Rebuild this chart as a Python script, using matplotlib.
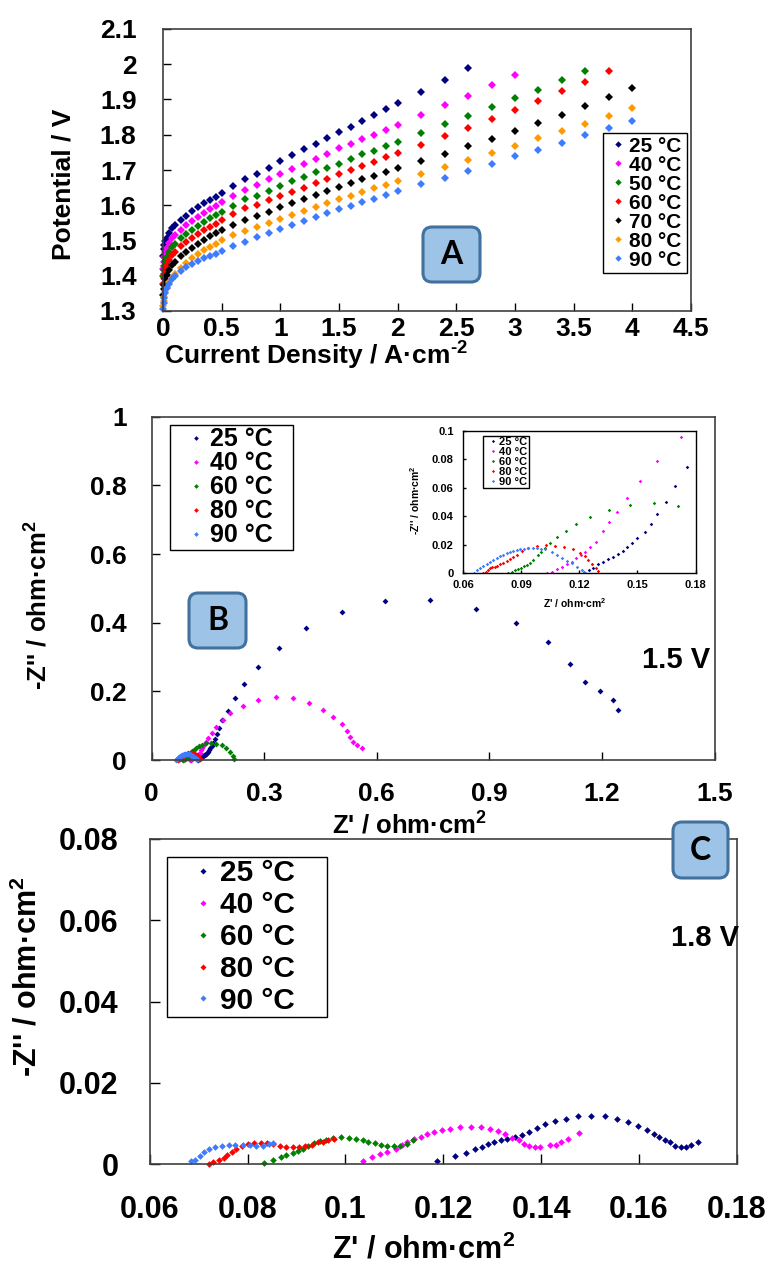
"""Polarization curves (A) and Nyquist plots at 1.5 V (B, with inset) and 1.8 V (C)."""

import matplotlib.pyplot as plt
import numpy as np
from matplotlib.patches import FancyBboxPatch
from matplotlib.ticker import FormatStrFormatter
from matplotlib.transforms import IdentityTransform

plt.rcParams['font.family'] = ['Liberation Sans', 'DejaVu Sans']
plt.rcParams['font.weight'] = 'bold'
plt.rcParams['axes.labelweight'] = 'bold'
plt.rcParams['mathtext.fontset'] = 'custom'
plt.rcParams['mathtext.rm'] = 'Liberation Sans:bold'
plt.rcParams['mathtext.it'] = 'Liberation Sans:bold'
plt.rcParams['mathtext.bf'] = 'Liberation Sans:bold'

W, H = 768, 1266

# ---- panel A: polarization curves -------------------------------------------
current = [0, 0.005, 0.01, 0.02, 0.03, 0.05, 0.075, 0.1, 0.15, 0.2, 0.25, 0.3, 0.35,
           0.4, 0.45, 0.5, 0.6, 0.7, 0.8, 0.9, 1.0, 1.1, 1.2, 1.3, 1.4, 1.5, 1.6, 1.7,
           1.8, 1.9, 2.0, 2.2, 2.4, 2.6, 2.8, 3.0, 3.2, 3.4, 3.6, 3.8, 4.0]
v_25 = [1.455, 1.476, 1.486, 1.498, 1.508, 1.522, 1.535, 1.544, 1.558, 1.570, 1.583, 1.594, 1.605, 1.615, 1.624,
        1.636, 1.655, 1.674, 1.690, 1.707, 1.726, 1.742, 1.759, 1.775, 1.791, 1.808, 1.823, 1.840, 1.856, 1.873, 1.889,
        1.921, 1.955, 1.990]
v_40 = [1.420, 1.440, 1.452, 1.468, 1.480, 1.494, 1.506, 1.516, 1.531, 1.544, 1.556, 1.567, 1.578, 1.588, 1.598,
        1.608, 1.626, 1.643, 1.657, 1.674, 1.689, 1.702, 1.716, 1.730, 1.744, 1.761, 1.775, 1.789, 1.800, 1.813, 1.828,
        1.855, 1.884, 1.911, 1.940, 1.970]
v_50 = [1.400, 1.416, 1.428, 1.443, 1.454, 1.468, 1.481, 1.491, 1.506, 1.519, 1.531, 1.542, 1.553, 1.563, 1.572,
        1.582, 1.599, 1.617, 1.627, 1.640, 1.656, 1.668, 1.681, 1.693, 1.707, 1.718, 1.731, 1.744, 1.755, 1.768, 1.780,
        1.805, 1.830, 1.854, 1.879, 1.903, 1.928, 1.954, 1.981]
v_60 = [1.378, 1.393, 1.405, 1.420, 1.431, 1.445, 1.458, 1.468, 1.483, 1.496, 1.507, 1.518, 1.529, 1.539, 1.548,
        1.558, 1.574, 1.591, 1.602, 1.615, 1.627, 1.639, 1.650, 1.663, 1.675, 1.688, 1.700, 1.712, 1.724, 1.736, 1.748,
        1.772, 1.796, 1.820, 1.845, 1.869, 1.896, 1.923, 1.951, 1.981]
v_70 = [1.345, 1.362, 1.375, 1.390, 1.402, 1.417, 1.430, 1.440, 1.455, 1.468, 1.480, 1.491, 1.502, 1.512, 1.521,
        1.530, 1.544, 1.557, 1.570, 1.582, 1.594, 1.605, 1.618, 1.629, 1.641, 1.653, 1.664, 1.675, 1.684, 1.695, 1.706,
        1.725, 1.746, 1.768, 1.789, 1.811, 1.833, 1.857, 1.882, 1.906, 1.932]
v_80 = [1.315, 1.328, 1.339, 1.354, 1.366, 1.381, 1.395, 1.406, 1.422, 1.437, 1.449, 1.461, 1.472, 1.482, 1.491,
        1.501, 1.516, 1.527, 1.539, 1.551, 1.561, 1.572, 1.584, 1.596, 1.607, 1.618, 1.627, 1.639, 1.648, 1.657, 1.669,
        1.689, 1.708, 1.728, 1.748, 1.769, 1.790, 1.811, 1.831, 1.852, 1.875]
v_90 = [1.305, 1.322, 1.336, 1.352, 1.364, 1.378, 1.390, 1.400, 1.414, 1.425, 1.434, 1.441, 1.449, 1.456, 1.463,
        1.471, 1.484, 1.497, 1.509, 1.520, 1.532, 1.544, 1.555, 1.567, 1.579, 1.588, 1.599, 1.609, 1.619, 1.629, 1.640,
        1.659, 1.678, 1.698, 1.718, 1.739, 1.758, 1.778, 1.798, 1.819, 1.838]
temps_a = ['25 °C', '40 °C', '50 °C', '60 °C', '70 °C', '80 °C', '90 °C']
colors_a = ['#000080', '#ff00ff', '#008000', '#ff0000', '#000000', '#ff9900', '#3d7bff']

# ---- panel B: impedance at 1.5 V --------------------------------------------
b25_re = [0.1229, 0.1250, 0.1272, 0.1298, 0.1324, 0.1349, 0.1375, 0.1401, 0.1427, 0.1448, 0.1470, 0.1496,
          0.1539, 0.1568, 0.1603, 0.1648, 0.1696, 0.1755, 0.181, 0.189, 0.203, 0.222, 0.247, 0.285, 0.340,
          0.411, 0.507, 0.622, 0.742, 0.865, 0.970, 1.057, 1.115, 1.155, 1.195, 1.229, 1.243]
b25_im = [0.0004, 0.0023, 0.0039, 0.0063, 0.0082, 0.0098, 0.0117, 0.0136, 0.0159, 0.0183, 0.0211, 0.0246,
          0.0288, 0.0346, 0.0414, 0.0501, 0.0613, 0.0749, 0.094, 0.116, 0.144, 0.180, 0.220, 0.270, 0.325,
          0.384, 0.432, 0.463, 0.466, 0.440, 0.400, 0.343, 0.280, 0.226, 0.200, 0.175, 0.146]
b40_re = [0.1031, 0.1057, 0.1083, 0.1109, 0.1134, 0.1160, 0.1182, 0.1207, 0.1229, 0.1255, 0.1286, 0.1320,
          0.1351, 0.1394, 0.1444, 0.1515, 0.1603, 0.1724, 0.190, 0.209, 0.245, 0.285, 0.331, 0.378, 0.420,
          0.456, 0.484, 0.507, 0.522, 0.530, 0.538, 0.548, 0.560]
b40_im = [0.0000, 0.0011, 0.0030, 0.0046, 0.0065, 0.0082, 0.0105, 0.0129, 0.0152, 0.0183, 0.0218, 0.0297,
          0.0358, 0.0433, 0.0527, 0.0647, 0.0789, 0.0960, 0.117, 0.136, 0.158, 0.175, 0.184, 0.180, 0.165,
          0.146, 0.126, 0.104, 0.085, 0.068, 0.053, 0.043, 0.034]
b60_re = [0.0833, 0.0850, 0.0866, 0.0882, 0.0898, 0.0914, 0.0930, 0.0946, 0.0962, 0.0985, 0.1002, 0.1022,
          0.1048, 0.1086, 0.1129, 0.1182, 0.1255, 0.1351, 0.1463, 0.1585, 0.1708, 0.187, 0.198, 0.209, 0.218,
          0.221]
b60_im = [0.0000, 0.0010, 0.0020, 0.0030, 0.0040, 0.0050, 0.0060, 0.0072, 0.0093, 0.0129, 0.0152, 0.0180,
          0.0215, 0.0253, 0.0299, 0.0346, 0.0398, 0.0447, 0.0482, 0.0492, 0.0471, 0.044, 0.036, 0.024, 0.011,
          0.002]
b80_re = [0.0703, 0.0715, 0.0727, 0.0738, 0.0750, 0.0762, 0.0773, 0.0790, 0.0807, 0.0824, 0.0841, 0.0858,
          0.0876, 0.0902, 0.0933, 0.0979, 0.1026, 0.1074, 0.1122, 0.1168, 0.1203, 0.1229, 0.1246, 0.1264,
          0.1286, 0.1298]
b80_im = [0.0000, 0.0012, 0.0024, 0.0035, 0.0041, 0.0047, 0.0053, 0.0064, 0.0075, 0.0086, 0.0098, 0.0112,
          0.0126, 0.0157, 0.0176, 0.0192, 0.0201, 0.0194, 0.0187, 0.0171, 0.0145, 0.0122, 0.0093, 0.0063,
          0.0035, 0.0016]
b90_re = [0.0655, 0.0670, 0.0686, 0.0703, 0.0721, 0.0738, 0.0755, 0.0772, 0.0790, 0.0807, 0.0824, 0.0841,
          0.0858, 0.0876, 0.0893, 0.0915, 0.0936, 0.0958, 0.0979, 0.1002, 0.1024, 0.1057, 0.1083, 0.1109,
          0.1134, 0.1160, 0.1186, 0.1212, 0.1224]
b90_im = [0.0004, 0.0020, 0.0035, 0.0049, 0.0063, 0.0078, 0.0093, 0.0108, 0.0122, 0.0132, 0.0141, 0.0149,
          0.0157, 0.0163, 0.0169, 0.0173, 0.0176, 0.0177, 0.0176, 0.0173, 0.0169, 0.0152, 0.0129, 0.0105,
          0.0086, 0.0070, 0.0046, 0.0023, 0.0007]

# ---- panel C: impedance at 1.8 V --------------------------------------------
c25_re = [0.1188, 0.1223, 0.1246, 0.1264, 0.1279, 0.1292, 0.1304, 0.1318, 0.1330, 0.1346, 0.1360, 0.1376,
          0.1392, 0.1408, 0.1428, 0.1450, 0.1475, 0.1501, 0.1530, 0.1555, 0.1578, 0.1599, 0.1616, 0.1631,
          0.1641, 0.1653, 0.1664, 0.1674, 0.1685, 0.1696, 0.1707, 0.1720]
c25_im = [0.0008, 0.0020, 0.0028, 0.0036, 0.0042, 0.0049, 0.0055, 0.0060, 0.0061, 0.0066, 0.0072, 0.0080,
          0.0088, 0.0098, 0.0106, 0.0112, 0.0117, 0.0119, 0.0117, 0.0111, 0.0103, 0.0093, 0.0083, 0.0074,
          0.0067, 0.0060, 0.0053, 0.0045, 0.0042, 0.0042, 0.0047, 0.0055]
c40_re = [0.1036, 0.1054, 0.1071, 0.1086, 0.1104, 0.1115, 0.1125, 0.1140, 0.1154, 0.1167, 0.1181, 0.1197,
          0.1213, 0.1234, 0.1256, 0.1277, 0.1296, 0.1311, 0.1327, 0.1341, 0.1354, 0.1365, 0.1376, 0.1387,
          0.1398, 0.1419, 0.1430, 0.1441, 0.1456, 0.1478]
c40_im = [0.0008, 0.0018, 0.0025, 0.0030, 0.0038, 0.0047, 0.0055, 0.0061, 0.0067, 0.0074, 0.0079, 0.0083,
          0.0087, 0.0090, 0.0092, 0.0091, 0.0087, 0.0082, 0.0074, 0.0065, 0.0059, 0.0049, 0.0044, 0.0042,
          0.0042, 0.0048, 0.0046, 0.0055, 0.0062, 0.0077]
c60_re = [0.0834, 0.0853, 0.0869, 0.0879, 0.0892, 0.0903, 0.0913, 0.0924, 0.0935, 0.0948, 0.0961, 0.0974,
          0.0990, 0.1007, 0.1022, 0.1035, 0.1047, 0.1060, 0.1073, 0.1086, 0.1099, 0.1112, 0.1125, 0.1138]
c60_im = [0.0003, 0.0011, 0.0018, 0.0022, 0.0028, 0.0033, 0.0038, 0.0044, 0.0051, 0.0057, 0.0060, 0.0064,
          0.0067, 0.0064, 0.0061, 0.0059, 0.0055, 0.0051, 0.0047, 0.0044, 0.0044, 0.0044, 0.0049, 0.0060]
c80_re = [0.0722, 0.0730, 0.0741, 0.0751, 0.0758, 0.0768, 0.0777, 0.0788, 0.0801, 0.0814, 0.0827, 0.0840,
          0.0853, 0.0866, 0.0879, 0.0892, 0.0905, 0.0918, 0.0931, 0.0944, 0.0955, 0.0965, 0.0977]
c80_im = [0.0000, 0.0006, 0.0011, 0.0016, 0.0022, 0.0030, 0.0038, 0.0044, 0.0049, 0.0051, 0.0051, 0.0051,
          0.0049, 0.0044, 0.0042, 0.0041, 0.0042, 0.0044, 0.0047, 0.0054, 0.0055, 0.0059, 0.0061]
c90_re = [0.0684, 0.0693, 0.0702, 0.0710, 0.0721, 0.0734, 0.0747, 0.0762, 0.0775, 0.0791, 0.0805, 0.0818,
          0.0831, 0.0844, 0.0853]
c90_im = [0.0008, 0.0011, 0.0020, 0.0030, 0.0036, 0.0041, 0.0044, 0.0047, 0.0048, 0.0048, 0.0047, 0.0044,
          0.0044, 0.0049, 0.0052]
temps_bc = ['25 °C', '40 °C', '60 °C', '80 °C', '90 °C']
colors_bc = ['#000080', '#ff00ff', '#008000', '#ff0000', '#3d7bff']

fig = plt.figure(figsize=(W / 100, H / 100), dpi=100)


def px_axes(x0, y0, x1, y1):
    # pixel box (top-left origin) -> figure axes
    return fig.add_axes([x0 / W, 1 - y1 / H, (x1 - x0) / W, (y1 - y0) / H])


def style(ax, size, pad_x, pad_y, tick_len, spine='#404040', lw=1.2):
    ax.tick_params(direction='in', length=tick_len, width=1, labelsize=size)
    ax.tick_params(axis='x', pad=pad_x)
    ax.tick_params(axis='y', pad=pad_y)
    for s in ax.spines.values():
        s.set_color(spine)
        s.set_linewidth(lw)
    ax.xaxis.set_major_formatter(FormatStrFormatter('%g'))
    ax.yaxis.set_major_formatter(FormatStrFormatter('%g'))


def labels(ax, xlabel, ylabel, size, xpos, ypos):
    ax.set_xlabel(xlabel, fontsize=size)
    ax.set_ylabel(ylabel, fontsize=size)
    ax.xaxis.label.set_va('center')
    ax.yaxis.label.set_va('center')
    ax.xaxis.set_label_coords(*xpos)
    ax.yaxis.set_label_coords(*ypos)


def legend(ax, box, size, ms_scale, hl, htp, bpad, lsp):
    x0, y0, x1, y1 = box
    leg = ax.legend(loc='upper left', mode='expand', borderaxespad=0,
                    bbox_to_anchor=(x0 / W, 1 - y1 / H, (x1 - x0) / W, (y1 - y0) / H),
                    bbox_transform=fig.transFigure, prop={'size': size, 'weight': 'bold'},
                    markerscale=ms_scale, handlelength=hl, handletextpad=htp,
                    borderpad=bpad, labelspacing=lsp, fancybox=False, framealpha=1)
    leg.get_frame().set_edgecolor('#000000')
    leg.get_frame().set_linewidth(1.0)


def tag(x0, y0, x1, y1, letter):
    box = FancyBboxPatch((x0, H - y1), x1 - x0, y1 - y0, boxstyle='round,pad=0,rounding_size=9',
                         transform=IdentityTransform(), fc='#9dc3e6', ec='#41719c', lw=2.2)
    fig.add_artist(box)
    fig.text((x0 + x1) / 2 / W, 1 - (y0 + y1) / 2 / H, letter, ha='center', va='center',
             fontsize=23, family=['Lato', 'DejaVu Sans'], weight='bold')


# ---- A ----
ax_a = px_axes(163, 29, 691, 311)
v_a = [v_25, v_40, v_50, v_60, v_70, v_80, v_90]
for name, col, v in zip(temps_a, colors_a, v_a):
    ax_a.plot(current[:len(v)], v, ls='none', marker='D', ms=3.6, mew=0,
              color=col, label=name, clip_on=False)
ax_a.set_xlim(0, 4.5)
ax_a.set_ylim(1.3, 2.1)
ax_a.set_xticks(np.arange(0, 4.51, 0.5))
ax_a.set_yticks(np.arange(1.3, 2.11, 0.1))
style(ax_a, 19, 4, 19, 5.5)
labels(ax_a, r'Current Density / A·cm$^{\text{-2}}$', 'Potential / V', 19,
       (0.29, -0.16), (-0.188, 0.45))
legend(ax_a, (603, 133, 687, 307), 15, 0.9, 1.1, 0.0, 0.17, 0.0)
tag(423, 227, 480, 282, 'A')

# ---- B ----
ax_b = px_axes(151.5, 416.7, 714.6, 760)
series_b = [(b25_re, b25_im), (b40_re, b40_im), (b60_re, b60_im), (b80_re, b80_im), (b90_re, b90_im)]
for name, col, (re, im) in zip(temps_bc, colors_bc, series_b):
    ax_b.plot(re, im, ls='none', marker='D', ms=3.0, mew=0, color=col,
              label=name, clip_on=False)
ax_b.set_xlim(0, 1.5)
ax_b.set_ylim(0, 1)
ax_b.set_xticks(np.arange(0, 1.51, 0.3))
ax_b.set_yticks(np.arange(0, 1.01, 0.2))
style(ax_b, 19, 16, 18, 5.5)
labels(ax_b, "Z' / ohm·cm$^{2}$", "-Z'' / ohm·cm$^{2}$", 18.5,
       (0.459, -0.192), (-0.2, 0.45))
legend(ax_b, (170, 425, 293, 573), 18, 0.8, 1.86, -0.36, 0.1, 0.0)
tag(189, 593, 246, 648, 'B')
ax_b.text(676, H - 660, '1.5 V', transform=IdentityTransform(), ha='center', va='center',
          fontsize=21, weight='bold')

# inset
ax_i = px_axes(463.3, 431, 695.5, 573.3)
for name, col, (re, im) in zip(temps_bc, colors_bc, series_b):
    ax_i.plot(re, im, ls='none', marker='D', ms=1.8, mew=0, color=col, label=name)
ax_i.set_xlim(0.06, 0.18)
ax_i.set_ylim(0, 0.1)
ax_i.set_xticks(np.arange(0.06, 0.181, 0.03))
ax_i.set_yticks(np.arange(0, 0.101, 0.02))
style(ax_i, 8, 5, 7, 2, spine='#000000', lw=1.0)
labels(ax_i, "Z' / ohm·cm$^{2}$", "-Z'' / ohm·cm$^{2}$", 7.5,
       (0.481, -0.211), (-0.208, 0.515))
legend(ax_i, (483.3, 436, 529.3, 498.3), 8, 0.9, 1.6, -0.3, 0.1, 0.0)

# ---- C ----
ax_c = px_axes(149.7, 839, 736.8, 1164)
series_c = [(c25_re, c25_im), (c40_re, c40_im), (c60_re, c60_im), (c80_re, c80_im), (c90_re, c90_im)]
for name, col, (re, im) in zip(temps_bc, colors_bc, series_c):
    ax_c.plot(re, im, ls='none', marker='D', ms=3.4, mew=0, color=col,
              label=name, clip_on=False)
ax_c.set_xlim(0.06, 0.18)
ax_c.set_ylim(0, 0.08)
ax_c.set_xticks(np.arange(0.06, 0.181, 0.02))
ax_c.set_yticks(np.arange(0, 0.081, 0.02))
style(ax_c, 22, 22, 22.5, 7)
labels(ax_c, "Z' / ohm·cm$^{2}$", "-Z'' / ohm·cm$^{2}$", 22,
       (0.467, -0.265), (-0.208, 0.575))
legend(ax_c, (167.3, 857.3, 326.7, 1049.3), 21.5, 0.9, 2.27, -0.575, 0.07, 0.13)
tag(673, 822, 728, 878, 'C')
ax_c.text(705, H - 938, '1.8 V', transform=IdentityTransform(), ha='center', va='center',
          fontsize=21, weight='bold')

fig.savefig('out.png', dpi=100)
